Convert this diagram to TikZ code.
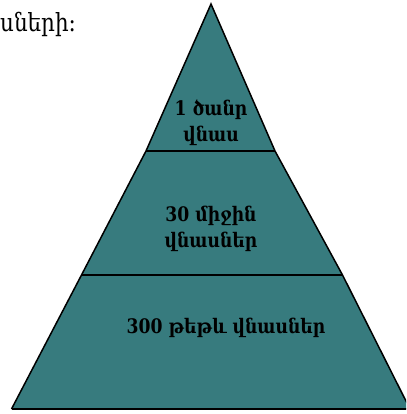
\documentclass[tikz,border=0pt]{standalone}
\usepackage{fontspec}
\newfontfamily\armfont[Script=Armenian, FakeStretch=0.86]{DejaVu Serif}
\definecolor{pyrteal}{HTML}{377B7E}
\begin{document}
\begin{tikzpicture}[x=1pt,y=-1pt,
  lbl/.style={font=\armfont\bfseries\fontsize{20}{26}\selectfont, align=center, text=black, inner sep=0pt},
  edge/.style={draw=black, line width=1.5pt}]
\useasboundingbox (0,0) rectangle (406,414);
\clip (0,0) rectangle (406,414);
% pyramid outline points
\coordinate (apex) at (211,4);
\coordinate (l1) at (146,151);
\coordinate (r1) at (275,151);
\coordinate (l2) at (81.5,275);
\coordinate (r2) at (342.5,275);
\coordinate (bl) at (11.5,409);
\coordinate (br) at (410,409);
\fill[pyrteal] (apex) -- (r1) -- (r2) -- (br) -- (bl) -- (l2) -- (l1) -- cycle;
\draw[edge, line join=miter] (bl) -- (l2) -- (l1) -- (apex) -- (r1) -- (r2) -- (br);
\draw[draw=black, line width=2pt] (bl) -- (br);
\draw[edge] (l1) -- (r1);
\draw[edge] (l2) -- (r2);
\node[lbl] (t1) at (211,123) {1 ծանր\\վնաս};
\node[lbl] (t2) at (211,229) {30 միջին\\վնասներ};
\node[lbl] (t3) at (226,328) {300 թեթև վնասներ};
\node[font=\armfont\fontsize{25}{27}\selectfont, anchor=base west, inner sep=0pt] (hdr) at (0,32) {սների:};
\end{tikzpicture}
\end{document}
